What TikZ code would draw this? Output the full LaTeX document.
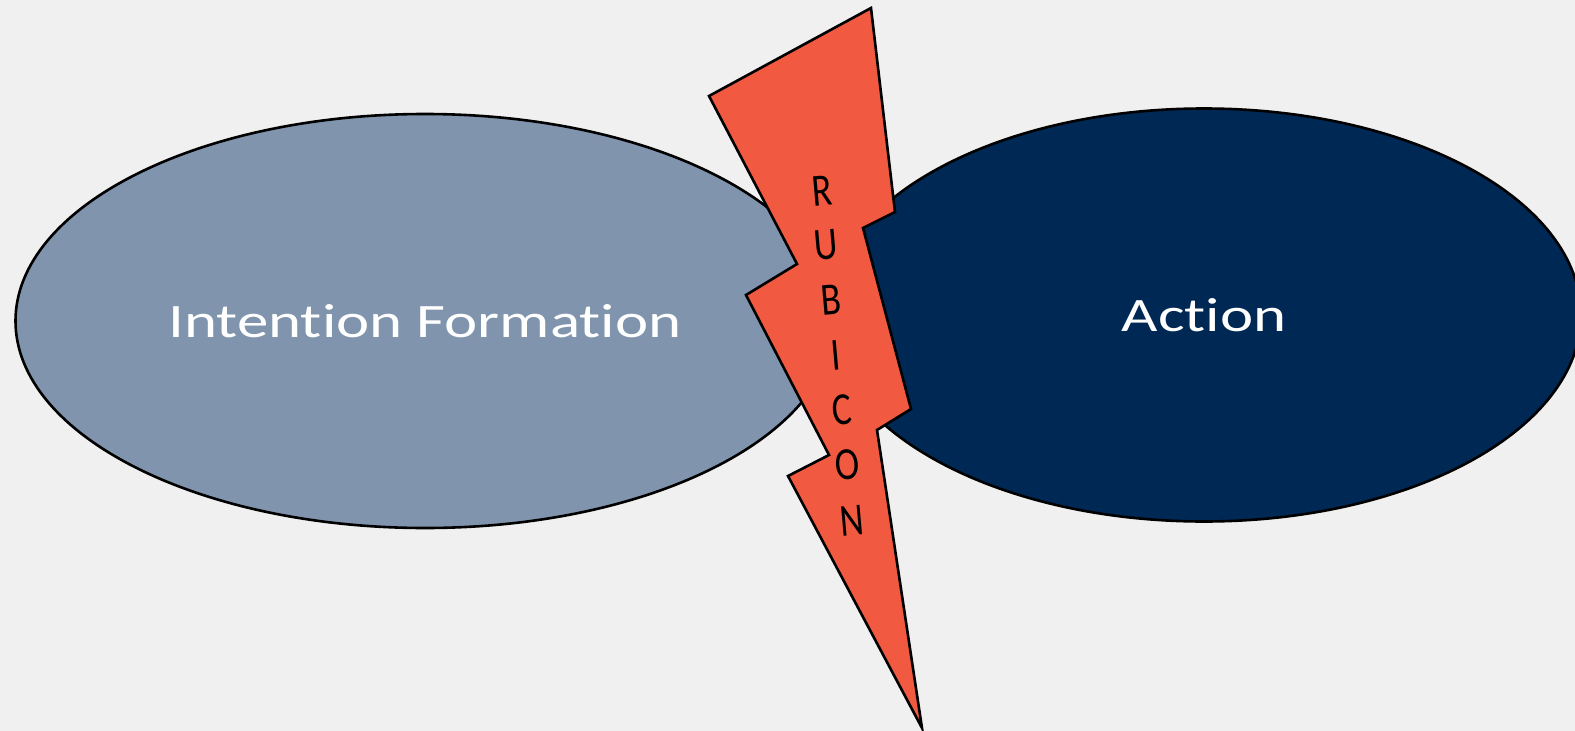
\documentclass[tikz,border=0pt]{standalone}
\usepackage{fontspec}
\setmainfont{Carlito}[Ligatures=NoCommon, RawFeature={-liga;-clig;-dlig}]
\usetikzlibrary{shapes.geometric}
\definecolor{bgc}{RGB}{240,240,240}
\definecolor{intc}{RGB}{128,149,173}
\definecolor{actc}{RGB}{0,40,84}
\definecolor{boltc}{RGB}{241,89,64}
\tikzset{
  blob/.style={ellipse, draw=black, line width=2.6pt, inner sep=0pt, text=white,
    font=\fontsize{48}{50}\selectfont},
  bolt/.style={fill=boltc, draw=black, line width=2.6pt, line join=miter},
  letter/.style={inner sep=0pt, text=black, rotate=5,
    font=\fontsize{46}{48}\selectfont}
}
\begin{document}
\begin{tikzpicture}[x=1pt,y=-1pt]
\fill[bgc] (0,0) rectangle (1575,731);
\useasboundingbox (0,0) rectangle (1575,731);
\node[blob, fill=intc, minimum width=819pt, minimum height=414pt] (intent) at (425,321)
  {\scalebox{1.31}[1]{Intention Formation}};
\node[blob, fill=actc, minimum width=754pt, minimum height=413pt] (action) at (1204,315)
  {\scalebox{1.31}[1]{Action}};
\draw[bolt] (871,8) -- (895,212) -- (863,228) -- (911,409) -- (877,430) -- (922,728)
  -- (788,476) -- (829,455) -- (746,295) -- (797,264) -- (709,96) -- cycle;
\node[letter] (l1) at (822,191) {\scalebox{0.8}[1]{R}};
\node[letter] (l2) at (826,245) {\scalebox{0.8}[1]{U}};
\node[letter] (l3) at (831,300) {\scalebox{0.8}[1]{B}};
\node[letter] (l4) at (836,355) {\scalebox{0.8}[1]{I}};
\node[letter] (l5) at (842,410) {\scalebox{0.8}[1]{C}};
\node[letter] (l6) at (847,465) {\scalebox{0.8}[1]{O}};
\node[letter] (l7) at (852,521) {\scalebox{0.8}[1]{N}};
\end{tikzpicture}
\end{document}
